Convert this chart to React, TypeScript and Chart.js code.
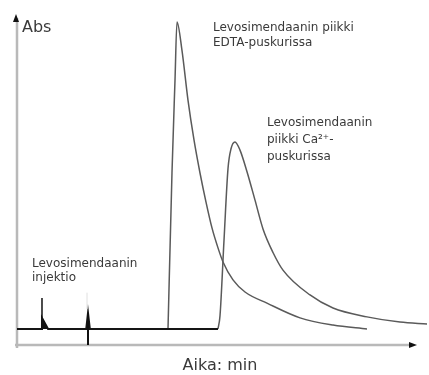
import React, { useEffect, useRef } from "react";
import { Chart, registerables } from "chart.js";

Chart.register(...registerables);

// Time axis (arbitrary minutes, 0..100) and absorbance (0..1)
const baselineTime = [0, 6.16, 6.28, 7.8, 17.4, 17.84, 18.3, 50.5];
const baselineAbs = [0.049, 0.049, 0.083, 0.049, 0.049, 0.098, 0.049, 0.049];

const edtaTime = [37.94, 38.94, 39.7, 40.2, 41.46, 42.96, 44.47, 45.98, 47.49, 48.99, 50.5, 51.76, 54.27, 57.29, 62.81, 71.11, 79.4, 87.94];
const edtaAbs = [0.049, 0.526, 0.81, 0.988, 0.9, 0.749, 0.627, 0.526, 0.437, 0.358, 0.297, 0.254, 0.199, 0.162, 0.128, 0.083, 0.061, 0.049];

const caTime = [50.5, 51.01, 52.01, 53.02, 53.77, 54.77, 56.03, 57.79, 59.8, 61.81, 64.32, 66.83, 73.62, 79.4, 87.94, 96.23, 103.02];
const caAbs = [0.049, 0.09, 0.32, 0.54, 0.6, 0.621, 0.596, 0.53, 0.443, 0.355, 0.283, 0.229, 0.153, 0.113, 0.086, 0.07, 0.064];

const yLabel = "Abs";
const xLabel = "Aika: min";
const edtaLabel = ["Levosimendaanin piikki", "EDTA-puskurissa"];
const caLabel = ["Levosimendaanin", "piikki Ca²⁺-", "puskurissa"];
const injectLabel = ["Levosimendaanin", "injektio"];
const injectTime = 17.84;
const spikeTime = 6.28;

const toPoints = (xs: number[], ys: number[]) => xs.map((x, i) => ({ x, y: ys[i] }));

const decorPlugin = {
  id: "decor",
  beforeDatasetsDraw(chart: any) {
    const { ctx, chartArea } = chart;
    const { left, top, bottom } = chartArea;
    const right = 413;
    ctx.save();
    ctx.strokeStyle = "#b9b9b9";
    ctx.lineWidth = 2.5;
    ctx.beginPath();
    ctx.moveTo(left, bottom + 3);
    ctx.lineTo(left, top);
    ctx.moveTo(left - 2, bottom);
    ctx.lineTo(right - 4, bottom);
    ctx.stroke();
    ctx.fillStyle = "#111";
    ctx.beginPath();
    ctx.moveTo(left - 1, top - 4);
    ctx.lineTo(left - 4, top + 4);
    ctx.lineTo(left + 2, top + 4);
    ctx.closePath();
    ctx.fill();
    ctx.beginPath();
    ctx.moveTo(right + 4, bottom);
    ctx.lineTo(right - 4, bottom - 3);
    ctx.lineTo(right - 4, bottom + 3);
    ctx.closePath();
    ctx.fill();
    ctx.restore();
  },
  afterDatasetsDraw(chart: any) {
    const { ctx, chartArea, scales } = chart;
    const xs = scales.x;
    const ys = scales.y;
    const px = (v: number) => xs.getPixelForValue(v);
    const py = (v: number) => ys.getPixelForValue(v);
    ctx.save();
    // small filled spike marker
    ctx.fillStyle = "#151515";
    ctx.beginPath();
    ctx.moveTo(px(spikeTime), py(0.083));
    ctx.lineTo(px(7.8), py(0.049));
    ctx.lineTo(px(spikeTime), py(0.049));
    ctx.closePath();
    ctx.fill();
    // leader lines
    ctx.strokeStyle = "#111";
    ctx.lineWidth = 1.5;
    ctx.beginPath();
    ctx.moveTo(px(spikeTime), py(0.144));
    ctx.lineTo(px(spikeTime), py(0.083));
    ctx.stroke();
    ctx.lineWidth = 2;
    ctx.beginPath();
    ctx.moveTo(px(injectTime), py(0));
    ctx.lineTo(px(injectTime), py(0.098));
    ctx.stroke();
    ctx.strokeStyle = "#e0e0e0";
    ctx.lineWidth = 1;
    ctx.beginPath();
    ctx.moveTo(px(injectTime) - 1, py(0.16));
    ctx.lineTo(px(injectTime) - 1, py(0.11));
    ctx.stroke();

    ctx.fillStyle = "#3a3a3a";
    ctx.textBaseline = "middle";
    ctx.textAlign = "left";
    ctx.font = '16px "DejaVu Sans"';
    ctx.fillText(yLabel, px(1.26), py(0.969));
    ctx.textAlign = "center";
    ctx.fillText(xLabel, px(51.0), chartArea.bottom + 21);
    ctx.textAlign = "left";
    ctx.font = '12px "DejaVu Sans"';
    const edtaY = [0.969, 0.924];
    edtaLabel.forEach((t, i) => ctx.fillText(t, px(49.25), py(edtaY[i])));
    const caY = [0.679, 0.627, 0.575];
    caLabel.forEach((t, i) => ctx.fillText(t, px(62.81), py(caY[i])));
    const injY = [0.248, 0.205];
    injectLabel.forEach((t, i) => ctx.fillText(t, px(3.77), py(injY[i])));
    ctx.restore();
  },
};

export default function App() {
  const ref = useRef<HTMLCanvasElement | null>(null);
  useEffect(() => {
    if (!ref.current) return;
    const chart = new Chart(ref.current, {
      type: "line",
      data: {
        datasets: [
          {
            label: "baseline",
            data: toPoints(baselineTime, baselineAbs),
            borderColor: "#151515",
            borderWidth: 2,
            pointRadius: 0,
            tension: 0,
          },
          {
            label: "EDTA",
            data: toPoints(edtaTime, edtaAbs),
            borderColor: "#5a5a5a",
            borderWidth: 1.5,
            pointRadius: 0,
            cubicInterpolationMode: "monotone",
          },
          {
            label: "Ca",
            data: toPoints(caTime, caAbs),
            borderColor: "#5a5a5a",
            borderWidth: 1.5,
            pointRadius: 0,
            cubicInterpolationMode: "monotone",
            clip: false,
          },
        ],
      },
      options: {
        animation: false,
        responsive: false,
        devicePixelRatio: 1,
        layout: { padding: { left: 17, right: 14, top: 18, bottom: 30 } },
        plugins: { legend: { display: false }, tooltip: { enabled: false } },
        scales: {
          x: { type: "linear", min: 0, max: 100, display: false },
          y: { type: "linear", min: 0, max: 1, display: false },
        },
      },
      plugins: [decorPlugin],
    });
    return () => chart.destroy();
  }, []);
  return (
    <div style={{ position: "absolute", left: 0, top: 0, width: 429, height: 375, background: "#fff" }}>
      <canvas ref={ref} width={429} height={375} />
    </div>
  );
}
